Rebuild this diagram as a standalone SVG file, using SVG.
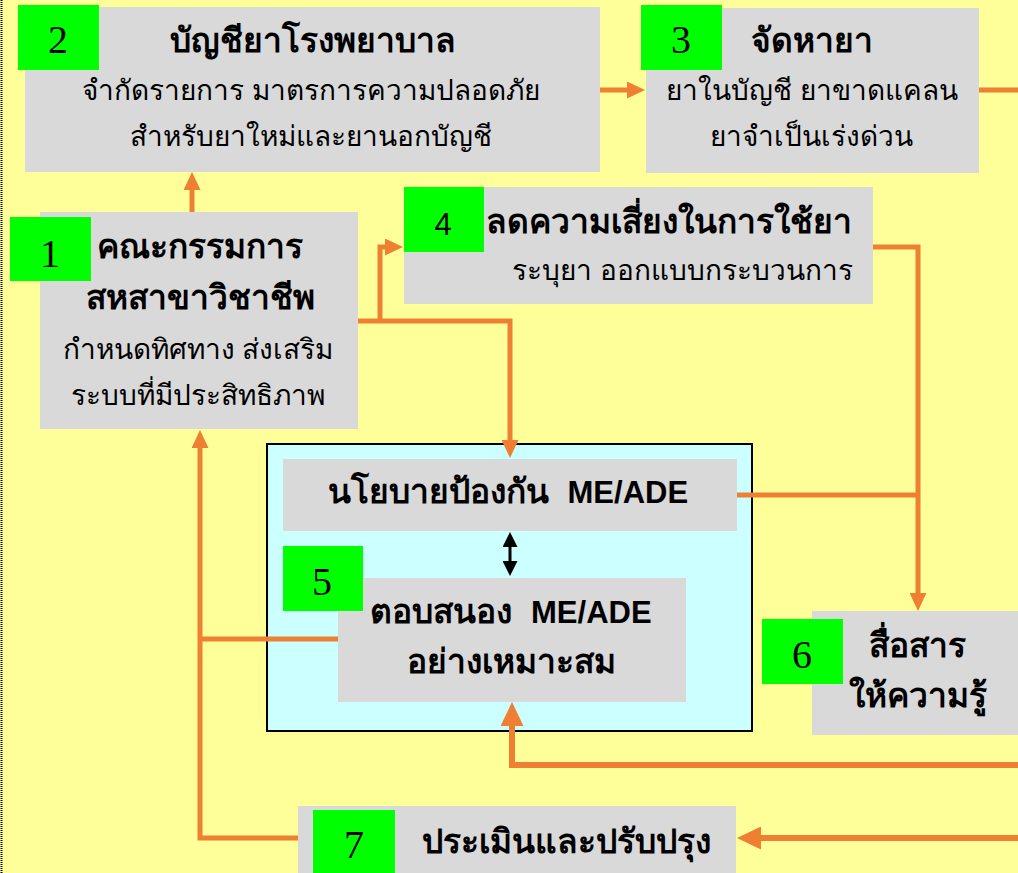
<svg xmlns="http://www.w3.org/2000/svg" width="1018" height="873" viewBox="0 0 1018 873">
<style>
.bx{fill:#D9D9D9}
.gn{fill:#00FF00}
.num{font-family:"Liberation Serif",serif;font-size:40px;fill:#000;text-anchor:middle}
.nums{font-family:"Liberation Sans",sans-serif;font-size:31px;fill:#000;text-anchor:middle}
.t{font-family:"Liberation Sans","Noto Sans",sans-serif;font-size:33.5px;font-weight:bold;fill:#000;text-anchor:middle}
.s{font-family:"Liberation Sans","Noto Sans",sans-serif;font-size:28px;fill:#000;text-anchor:middle}
.la{font-size:31px}
.c{fill:none;stroke:#EE7F33;stroke-width:5}
.ck{stroke-width:6}
</style>
<defs>
<marker id="a" markerUnits="userSpaceOnUse" markerWidth="18" markerHeight="17" refX="1" refY="8.5" orient="auto"><path d="M0,0 L18,8.5 L0,17 z" fill="#EE7F33"/></marker>
<marker id="b" markerUnits="userSpaceOnUse" markerWidth="24" markerHeight="23" refX="1" refY="11.5" orient="auto"><path d="M0,0 L24,11.5 L0,23 z" fill="#EE7F33"/></marker>
<marker id="k" markerUnits="userSpaceOnUse" markerWidth="15" markerHeight="15" refX="1" refY="7.5" orient="auto-start-reverse"><path d="M0,0 L15,7.5 L0,15 z" fill="#000"/></marker>
</defs>
<rect width="1018" height="873" fill="#FFFF99"/>
<line x1="1.5" y1="0" x2="1.5" y2="873" stroke="#000" stroke-width="2" stroke-dasharray="1,1"/>
<rect x="267" y="444" width="485" height="287" fill="#CCFFFF" stroke="#000" stroke-width="2"/>
<g id="connectors">
<path class="c" d="M192,212 V189" marker-end="url(#a)"/>
<path class="c" d="M600,90 H628" marker-end="url(#a)"/>
<path class="c" d="M979,90 H1018"/>
<path class="c" d="M358,321 H510 V441" marker-end="url(#a)"/>
<path class="c" d="M380,321 V247 H386" marker-end="url(#a)"/>
<path class="c" d="M873,247 H918 V594" marker-end="url(#a)"/>
<path class="c" d="M737,495 H918"/>
<path class="c" d="M338,639 H200"/>
<path class="c" d="M298,838 H200 V447" marker-end="url(#a)"/>
<path class="c ck" d="M1018,765 H512 V725" marker-end="url(#b)"/>
<path class="c ck" d="M1018,838 H760" marker-end="url(#b)"/>
<path d="M510,546 V562" stroke="#000" stroke-width="3" marker-start="url(#k)" marker-end="url(#k)"/>
</g>
<g id="n2">
<rect class="bx" x="25" y="7" width="575" height="165"/>
<rect class="gn" x="18" y="5" width="81" height="65"/>
<text class="num" x="58" y="53">2</text>
<text class="t" x="313" y="52">บัญชียาโรงพยาบาล</text>
<text class="s" x="311" y="100">จำกัดรายการ มาตรการความปลอดภัย</text>
<text class="s" x="311" y="146">สำหรับยาใหม่และยานอกบัญชี</text>
</g>
<g id="n3">
<rect class="bx" x="646" y="8" width="333" height="165"/>
<rect class="gn" x="641" y="5" width="81" height="65"/>
<text class="num" x="681" y="53">3</text>
<text class="t" x="812" y="52">จัดหายา</text>
<text class="s" x="812" y="100">ยาในบัญชี ยาขาดแคลน</text>
<text class="s" x="811" y="146">ยาจำเป็นเร่งด่วน</text>
</g>
<g id="n1">
<rect class="bx" x="40" y="212" width="318" height="217"/>
<rect class="gn" x="10" y="217" width="81" height="64"/>
<text class="num" x="50" y="267">1</text>
<text class="t" x="200" y="258">คณะกรรมการ</text>
<text class="t" x="200" y="309">สหสาขาวิชาชีพ</text>
<text class="s" x="198" y="359">กำหนดทิศทาง ส่งเสริม</text>
<text class="s" x="198" y="405">ระบบที่มีประสิทธิภาพ</text>
</g>
<g id="n4">
<rect class="bx" x="404" y="187" width="469" height="117"/>
<rect class="gn" x="404" y="187" width="80" height="65"/>
<text class="nums" x="443" y="235">4</text>
<text class="t" x="852" y="233" style="text-anchor:end">ลดความเสี่ยงในการใช้ยา</text>
<text class="s" x="853" y="280" style="text-anchor:end">ระบุยา ออกแบบกระบวนการ</text>
</g>
<g id="policy">
<rect class="bx" x="283" y="459" width="454" height="72"/>
<text class="t" x="508" y="503" xml:space="preserve">นโยบายป้องกัน  <tspan class="la">ME/ADE</tspan></text>
</g>
<g id="n5">
<rect class="bx" x="338" y="578" width="348" height="124"/>
<rect class="gn" x="283" y="546" width="80" height="65"/>
<text class="num" x="322" y="595">5</text>
<text class="t" x="511" y="623" xml:space="preserve">ตอบสนอง  <tspan class="la">ME/ADE</tspan></text>
<text class="t" x="511" y="673">อย่างเหมาะสม</text>
</g>
<g id="n6">
<rect class="bx" x="812" y="611" width="206" height="124"/>
<rect class="gn" x="762" y="619" width="81" height="65"/>
<text class="num" x="802" y="668">6</text>
<text class="t" x="917" y="657">สื่อสาร</text>
<text class="t" x="918" y="707">ให้ความรู้</text>
</g>
<g id="n7">
<rect class="bx" x="298" y="806" width="438" height="67"/>
<rect class="gn" x="313" y="810" width="82" height="63"/>
<text class="num" x="354" y="858">7</text>
<text class="t" x="566" y="853">ประเมินและปรับปรุง</text>
</g>
</svg>
